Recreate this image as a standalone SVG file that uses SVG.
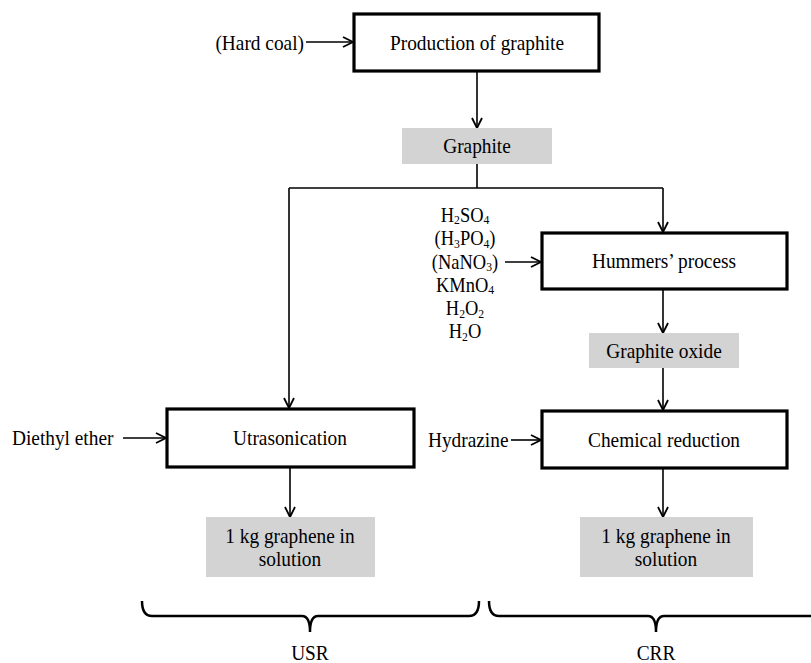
<svg xmlns="http://www.w3.org/2000/svg" width="811" height="663" viewBox="0 0 811 663">
<defs>
<marker id="arr" viewBox="0 0 12 12" refX="11" refY="6" markerWidth="12" markerHeight="12" markerUnits="userSpaceOnUse" orient="auto">
<path d="M1,1 L11,6 L1,11" fill="none" stroke="#000" stroke-width="1.8"/>
</marker>
</defs>
<style>
text{font-family:"Liberation Serif","Times New Roman",serif;font-size:21.5px;fill:#000}
.c{text-anchor:middle}
.e{text-anchor:end}
.chem{font-size:20.5px}
.box{fill:#fff;stroke:#000;stroke-width:3.2}
.gray{fill:#d3d3d3;stroke:none}
.ln{fill:none;stroke:#000;stroke-width:1.6}
.ar{fill:none;stroke:#000;stroke-width:1.6;marker-end:url(#arr)}
.br{fill:none;stroke:#000;stroke-width:2.5}
.sub{font-size:13px}
</style>
<rect width="811" height="663" fill="#fff"/>
<g id="connectors">
<line class="ar" x1="306" y1="42" x2="353" y2="42"/>
<line class="ar" x1="477" y1="71" x2="477" y2="128"/>
<polyline class="ln" points="477,164 477,188"/>
<polyline class="ln" points="289,188 663,188"/>
<line class="ar" x1="663" y1="188" x2="663" y2="232"/>
<line class="ar" x1="289" y1="188" x2="289" y2="408"/>
<line class="ar" x1="505" y1="262" x2="541" y2="262"/>
<line class="ar" x1="663" y1="289" x2="663" y2="333"/>
<line class="ar" x1="663" y1="368" x2="663" y2="410"/>
<line class="ar" x1="123" y1="438" x2="166" y2="438"/>
<line class="ar" x1="511" y1="440" x2="541" y2="440"/>
<line class="ar" x1="290" y1="467" x2="290" y2="517"/>
<line class="ar" x1="663" y1="468" x2="663" y2="517"/>
</g>
<g id="n_hardcoal"><text class="e" transform="scale(0.9,1)" x="337.8" y="50">(Hard coal)</text></g>
<g id="n_production">
<rect class="box" x="354" y="14" width="245" height="57"/>
<text class="c" transform="scale(0.9,1)" x="530" y="50">Production of graphite</text>
</g>
<g id="n_graphite">
<rect class="gray" x="402" y="128" width="150" height="36"/>
<text class="c" transform="scale(0.9,1)" x="530" y="153.5">Graphite</text>
</g>
<g id="n_chemicals">
<text class="c chem" transform="scale(0.9,1)" x="516.7" y="222">H<tspan class="sub" dy="2.5">2</tspan><tspan dy="-2.5">SO</tspan><tspan class="sub" dy="2.5">4</tspan></text>
<text class="c chem" transform="scale(0.9,1)" x="516.7" y="245.3">(H<tspan class="sub" dy="2.5">3</tspan><tspan dy="-2.5">PO</tspan><tspan class="sub" dy="2.5">4</tspan><tspan dy="-2.5">)</tspan></text>
<text class="c chem" transform="scale(0.9,1)" x="516.7" y="268.6">(NaNO<tspan class="sub" dy="2.5">3</tspan><tspan dy="-2.5">)</tspan></text>
<text class="c chem" transform="scale(0.9,1)" x="516.7" y="291.9">KMnO<tspan class="sub" dy="2.5">4</tspan></text>
<text class="c chem" transform="scale(0.9,1)" x="516.7" y="315.2">H<tspan class="sub" dy="2.5">2</tspan><tspan dy="-2.5">O</tspan><tspan class="sub" dy="2.5">2</tspan></text>
<text class="c chem" transform="scale(0.9,1)" x="516.7" y="338.5">H<tspan class="sub" dy="2.5">2</tspan><tspan dy="-2.5">O</tspan></text>
</g>
<g id="n_hummers">
<rect class="box" x="542" y="233" width="245" height="56"/>
<text class="c" transform="scale(0.9,1)" x="737.8" y="268.5">Hummers’ process</text>
</g>
<g id="n_graphiteoxide">
<rect class="gray" x="589" y="333" width="150" height="35"/>
<text class="c" transform="scale(0.9,1)" x="737.8" y="358">Graphite oxide</text>
</g>
<g id="n_diethyl"><text transform="scale(0.9,1)" x="13.3" y="445">Diethyl ether</text></g>
<g id="n_utrasonication">
<rect class="box" x="167" y="409" width="247" height="58"/>
<text class="c" transform="scale(0.9,1)" x="322.2" y="445.5">Utrasonication</text>
</g>
<g id="n_hydrazine"><text class="e" transform="scale(0.9,1)" x="565" y="447">Hydrazine</text></g>
<g id="n_chemred">
<rect class="box" x="542" y="411" width="245" height="57"/>
<text class="c" transform="scale(0.9,1)" x="737.8" y="447">Chemical reduction</text>
</g>
<g id="n_out_usr">
<rect class="gray" x="206" y="517" width="169" height="60"/>
<text class="c" transform="scale(0.9,1)" x="322.2" y="543">1 kg graphene in</text>
<text class="c" transform="scale(0.9,1)" x="322.2" y="566">solution</text>
</g>
<g id="n_out_crr">
<rect class="gray" x="580" y="517" width="173" height="60"/>
<text class="c" transform="scale(0.9,1)" x="740" y="543">1 kg graphene in</text>
<text class="c" transform="scale(0.9,1)" x="740" y="566">solution</text>
</g>
<g id="braces">
<path class="br" d="M142,601 Q142,616 152,616 L302,616 Q310,616 310,632 Q310,616 318,616 L469,616 Q479,616 479,601"/>
<path class="br" d="M489,601 Q489,616 499,616 L648,616 Q656,616 656,632 Q656,616 664,616 L830,616"/>
</g>
<g id="n_usr"><text class="c" transform="scale(0.9,1)" x="344.4" y="660">USR</text></g>
<g id="n_crr"><text class="c" transform="scale(0.9,1)" x="728.9" y="660">CRR</text></g>
</svg>
